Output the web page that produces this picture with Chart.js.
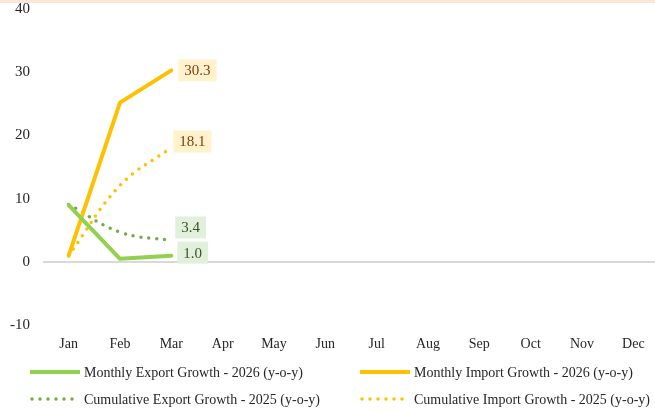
<!DOCTYPE html>
<html>
<head>
<meta charset="utf-8">
<script src="https://cdn.jsdelivr.net/npm/chart.js@4/dist/chart.umd.min.js"></script>
<style>
html,body{margin:0;padding:0;background:#fff;overflow:hidden;}
#wrap{position:relative;width:655px;height:411px;overflow:hidden;}
#band{position:absolute;left:0;top:0;width:655px;height:3px;background:#FBE5D6;}
canvas{position:absolute;left:0;top:0;}
</style>
</head>
<body>
<div id="wrap">
<canvas id="c" width="659" height="411"></canvas>
<div id="band"></div>
</div>
<script>
// data
const months = ['Jan','Feb','Mar','Apr','May','Jun','Jul','Aug','Sep','Oct','Nov','Dec'];
const exportMonthly2026 = [9.0, 0.5, 1.0];
const importMonthly2026 = [1.0, 25.2, 30.3];
const exportCumul2025 = [9.1, 4.7, 3.4];
const importCumul2025 = [1.0, 12.1, 18.1];
const yTicks = [-10, 0, 10, 20, 30, 40];

const FONT = "'Liberation Serif', 'Times New Roman', serif";

// boxes with the last value, right of the last point
const endLabels = {
  id: 'endLabels',
  afterDatasetsDraw(chart){
    const ctx = chart.ctx;
    chart.data.datasets.forEach((ds, i)=>{
      const meta = chart.getDatasetMeta(i);
      const idx = ds.data.length - 1;
      const pt = meta.data[idx];
      if(!pt) return;
      const txt = ds.data[idx].toFixed(1);
      ctx.save();
      ctx.font = '15px ' + FONT;
      const w = ctx.measureText(txt).width + 12;
      const h = 22;
      const x = pt.x + ds.lblDx;
      const y = pt.y + ds.lblDy - h/2;
      ctx.fillStyle = ds.lblBg;
      ctx.fillRect(x, y, w, h);
      ctx.fillStyle = ds.lblColor;
      ctx.textBaseline = 'middle';
      ctx.textAlign = 'left';
      ctx.fillText(txt, x + 6, y + h/2 + 1);
      ctx.restore();
    });
  }
};

// two-column legend under the axis
const gridLegend = {
  id: 'gridLegend',
  afterDraw(chart){
    const ctx = chart.ctx;
    const order = [0, 1, 2, 3];
    const colX = [30, 360];
    const rowY = [372, 399];
    order.forEach((dsIdx, k)=>{
      const ds = chart.data.datasets[dsIdx];
      const x = colX[k % 2], y = rowY[Math.floor(k / 2)];
      const dotted = ds.borderDash.length > 0;
      ctx.save();
      ctx.strokeStyle = ds.borderColor;
      ctx.lineWidth = dotted ? 3.5 : 4;
      ctx.lineCap = dotted ? 'round' : 'butt';
      ctx.setLineDash(ds.borderDash);
      ctx.beginPath();
      ctx.moveTo(x + (dotted ? 2 : 0), y);
      ctx.lineTo(x + 50, y);
      ctx.stroke();
      ctx.setLineDash([]);
      ctx.fillStyle = '#262626';
      ctx.font = '14px ' + FONT;
      ctx.textBaseline = 'middle';
      ctx.fillText(ds.label, x + 54, y + 1);
      ctx.restore();
    });
  }
};

new Chart(document.getElementById('c').getContext('2d'), {
  type: 'line',
  data: {
    labels: months,
    datasets: [
      { label: 'Monthly Export Growth - 2026 (y-o-y)', data: exportMonthly2026,
        borderColor: '#92D050', borderWidth: 4, borderDash: [], tension: 0,
        lblBg: '#E2EFDA', lblColor: '#375623', lblDx: 6, lblDy: -3 },
      { label: 'Monthly Import Growth - 2026 (y-o-y)', data: importMonthly2026,
        borderColor: '#FFC000', borderWidth: 4, borderDash: [], tension: 0,
        lblBg: '#FFF2CC', lblColor: '#843C0C', lblDx: 7, lblDy: 0 },
      { label: 'Cumulative Export Growth - 2025 (y-o-y)', data: exportCumul2025,
        borderColor: '#70AD47', borderWidth: 3.5, borderDash: [0, 8], tension: 0.4,
        lblBg: '#E2EFDA', lblColor: '#375623', lblDx: 4, lblDy: -13 },
      { label: 'Cumulative Import Growth - 2025 (y-o-y)', data: importCumul2025,
        borderColor: '#FFC000', borderWidth: 3.5, borderDash: [0, 8], tension: 0.4,
        lblBg: '#FFF2CC', lblColor: '#843C0C', lblDx: 2, lblDy: -6 }
    ]
  },
  options: {
    responsive: false,
    animation: false,
    layout: { padding: { top: 9, bottom: 47, left: 0, right: 0 } },
    elements: {
      point: { radius: 0, hoverRadius: 0 },
      line: { borderCapStyle: 'round', borderJoinStyle: 'round' }
    },
    plugins: { legend: { display: false }, tooltip: { enabled: false } },
    scales: {
      x: {
        offset: true,
        grid: { display: false, drawTicks: false },
        border: { display: false },
        ticks: { color: '#262626', font: { family: FONT, size: 14 }, padding: 11, maxRotation: 0, autoSkip: false }
      },
      y: {
        min: yTicks[0], max: yTicks[yTicks.length - 1],
        afterBuildTicks: s => { s.ticks = yTicks.map(v => ({ value: v })); },
        afterFit: s => { s.width = 43; s.paddingTop = 0; s.paddingBottom = 0; },
        grid: {
          drawTicks: false,
          color: c => c.tick.value === 0 ? '#D9D9D9' : 'rgba(0,0,0,0)',
          lineWidth: 2
        },
        border: { display: false },
        ticks: { color: '#262626', font: { family: FONT, size: 15 }, padding: 13 }
      }
    }
  },
  plugins: [endLabels, gridLegend]
});
</script>
</body>
</html>
